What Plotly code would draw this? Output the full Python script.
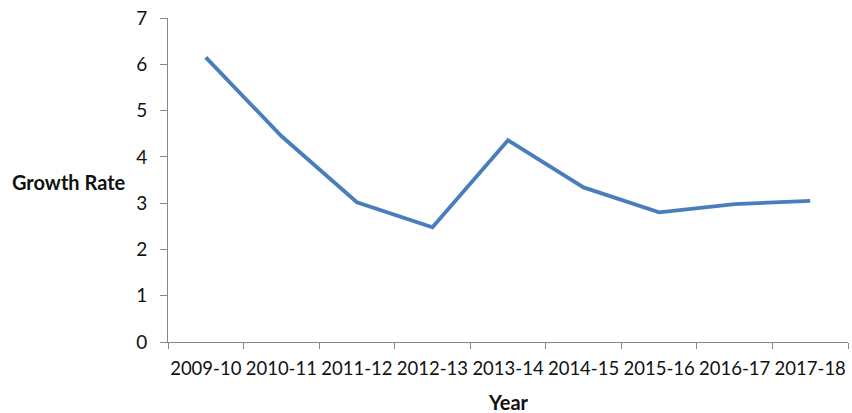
import plotly.graph_objects as go

years = ["2009-10", "2010-11", "2011-12", "2012-13", "2013-14",
         "2014-15", "2015-16", "2016-17", "2017-18"]
growth_rate = [6.15, 4.45, 3.02, 2.48, 4.36, 3.34, 2.80, 2.98, 3.05]
y_ticks = [0, 1, 2, 3, 4, 5, 6, 7]

font_family = "Lato, 'Open Sans', sans-serif"
axis_grey = "#868686"
text_color = "#111111"

fig = go.Figure(
    go.Scatter(
        x=years,
        y=growth_rate,
        mode="lines",
        line=dict(color="#4A7EBB", width=3.8),
        hoverinfo="x+y",
    )
)

fig.update_layout(
    width=852,
    height=413,
    margin=dict(l=168, r=4, t=18, b=71),
    paper_bgcolor="white",
    plot_bgcolor="white",
    showlegend=False,
    font=dict(family=font_family, size=18, color=text_color),
    xaxis=dict(
        type="category",
        range=[-0.5, len(years) - 0.5],
        showgrid=False,
        showline=True,
        linecolor=axis_grey,
        linewidth=1,
        ticks="outside",
        tickson="boundaries",
        ticklen=6,
        tickcolor=axis_grey,
        tickfont=dict(size=18.5),
        tickangle=0,
        ticklabelstandoff=10,
        automargin=False,
        zeroline=False,
    ),
    yaxis=dict(
        range=[0, 7],
        tickvals=y_ticks,
        showgrid=False,
        showline=True,
        linecolor=axis_grey,
        linewidth=1,
        ticks="outside",
        ticklen=7,
        tickcolor=axis_grey,
        tickfont=dict(size=19),
        ticklabelstandoff=9,
        automargin=False,
        zeroline=False,
    ),
    annotations=[
        dict(
            text="<b>Growth Rate</b>",
            xref="paper", yref="y",
            x=-0.232, y=3.45,
            xanchor="left", yanchor="middle",
            showarrow=False,
            font=dict(size=20, family=font_family, color=text_color),
        ),
        dict(
            text="<b>Year</b>",
            xref="paper", yref="paper",
            x=0.5, y=-0.185,
            xanchor="center", yanchor="middle",
            showarrow=False,
            font=dict(size=20, family=font_family, color=text_color),
        ),
    ],
)

fig.write_html("out.html")
